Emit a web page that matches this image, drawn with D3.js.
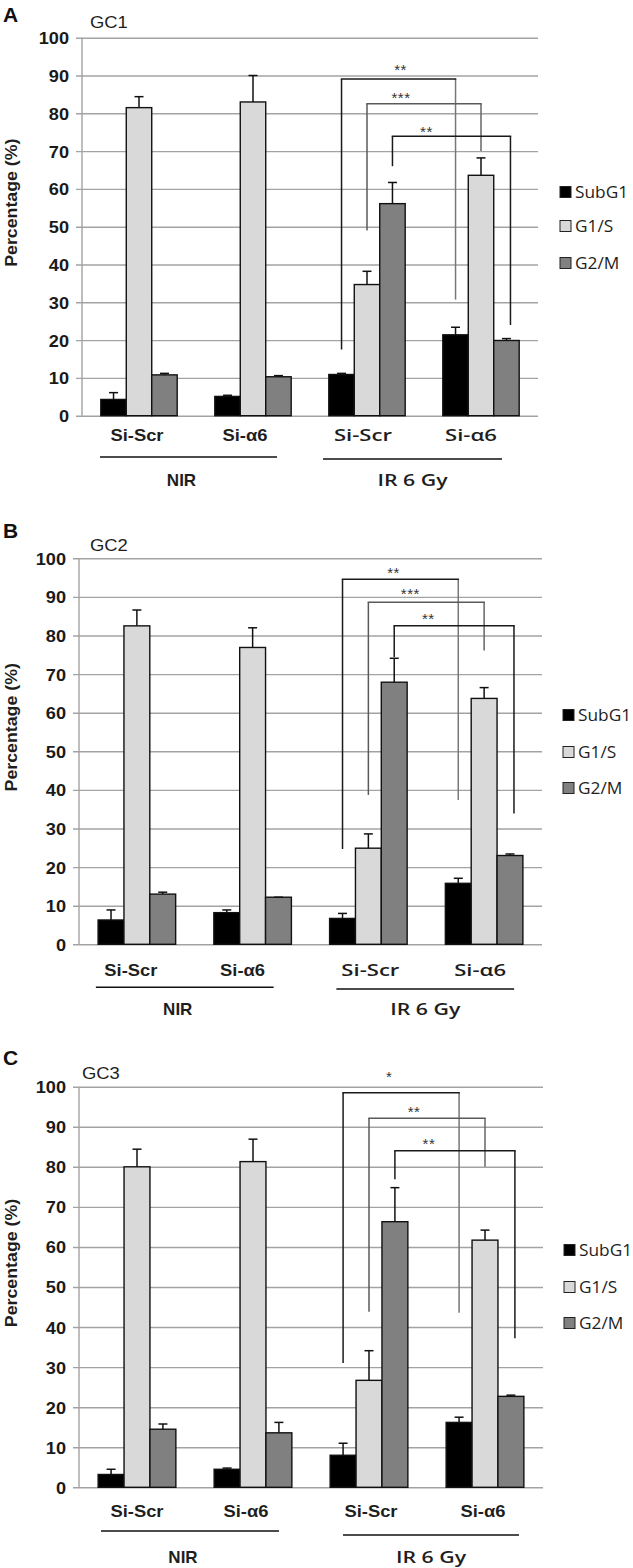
<!DOCTYPE html>
<html><head><meta charset="utf-8">
<script src="https://cdn.jsdelivr.net/npm/d3@7"></script>
<style>body{margin:0;background:#fff} svg{display:block}</style>
</head><body>
<svg id="chart" width="633" height="1568"></svg>
<script>
// ---------------- data ----------------
const groups = ["NIR Si-Scr", "NIR Si-α6", "IR Si-Scr", "IR Si-α6"];
const categoryLabels = ["Si-Scr", "Si-α6", "Si-Scr", "Si-α6"];
const treatmentLabels = ["NIR", "IR 6 Gy"];
const seriesNames = ["SubG1", "G1/S", "G2/M"];
const seriesColors = ["#000000", "#d9d9d9", "#808080"];
const yTicks = [0, 10, 20, 30, 40, 50, 60, 70, 80, 90, 100];
const panelLetters = ["A", "B", "C"];
const panelTitles = ["GC1", "GC2", "GC3"];

// GC1
const gc1SubG1 = [4.3, 5.1, 10.9, 21.4];
const gc1SubG1Err = [1.8, 0.3, 0.3, 2.0];
const gc1G1S = [81.5, 83.0, 34.7, 63.6];
const gc1G1SErr = [2.9, 7.0, 3.5, 4.6];
const gc1G2M = [10.8, 10.3, 56.1, 19.9];
const gc1G2MErr = [0.4, 0.3, 5.6, 0.5];
const gc1BracketLevel = [89.1, 82.5, 73.9];
const gc1BracketLeftEnd = [17.5, 49.0, 66.0];
const gc1BracketRightEnd = [30.7, 70.0, 24.0];
const gc1Stars = ["**", "***", "**"];

// GC2
const gc2SubG1 = [6.3, 8.2, 6.7, 15.8];
const gc2SubG1Err = [2.6, 0.7, 1.3, 1.3];
const gc2G1S = [82.5, 76.9, 24.9, 63.7];
const gc2G1SErr = [4.1, 5.1, 3.7, 2.8];
const gc2G2M = [13.0, 12.2, 67.9, 23.0];
const gc2G2MErr = [0.5, 0.0, 6.2, 0.4];
const gc2BracketLevel = [94.6, 88.6, 82.5];
const gc2BracketLeftEnd = [24.7, 38.7, 74.4];
const gc2BracketRightEnd = [37.4, 76.1, 33.9];
const gc2Stars = ["**", "***", "**"];

// GC3
const gc3SubG1 = [3.2, 4.5, 8.0, 16.2];
const gc3SubG1Err = [1.3, 0.3, 3.0, 1.3];
const gc3G1S = [80.0, 81.3, 26.7, 61.7];
const gc3G1SErr = [4.4, 5.6, 7.4, 2.5];
const gc3G2M = [14.5, 13.6, 66.3, 22.7];
const gc3G2MErr = [1.3, 2.6, 8.5, 0.3];
const gc3BracketLevel = [98.5, 92.1, 84.0];
const gc3BracketLeftEnd = [31.0, 43.8, 76.9];
const gc3BracketRightEnd = [43.6, 80.0, 37.2];
const gc3Stars = ["*", "**", "**"];

// ---------------- layout (positions / styles) ----------------
const layouts = [
  {x0:82, x1:538, yTop:37.7, yBot:415.7, letterY:22, titleY:28, titleX:90,
   catY:441, catDx:[-2,-8,-4,-10], nirLineY:457, irLineY:459, groupY:486,
   nirLine:[-39,24], irLine:[-44,21], legendX:560, legendY:[192,226,263],
   starDx:[59,34,34], starDy:[11,8,7], irSans:true},
  {x0:79, x1:542, yTop:558.3, yBot:944.3, letterY:538, titleY:551, titleX:90,
   catY:975.5, catDx:[-6,-10,2,-4], nirLineY:987.3, irLineY:989, groupY:1015,
   nirLine:[-41,21], irLine:[-32,30], legendX:563, legendY:[715,752,788],
   starDx:[51,42,34], starDy:[9,11,9], irSans:true},
  {x0:79, x1:543, yTop:1086.7, yBot:1487.3, letterY:1065, titleY:1079, titleX:82,
   catY:1517, catDx:[0,-7,2,-2], nirLineY:1531, irLineY:1535, groupY:1563,
   nirLine:[-36,26], irLine:[-26,34], legendX:564, legendY:[1250,1287,1323],
   starDx:[46,45,34], starDy:[18,9,9], irSans:false}
];
const rightLegDx = [0, 0, 4];
const bracketColors = {horiz:["#1a1a1a","#5a5a5a","#1a1a1a"], left:["#1a1a1a","#5a5a5a","#1a1a1a"], right:["#777","#666","#1a1a1a"]};

const panels = [
  {means:[gc1SubG1, gc1G1S, gc1G2M], errs:[gc1SubG1Err, gc1G1SErr, gc1G2MErr],
   level:gc1BracketLevel, leftEnd:gc1BracketLeftEnd, rightEnd:gc1BracketRightEnd, stars:gc1Stars},
  {means:[gc2SubG1, gc2G1S, gc2G2M], errs:[gc2SubG1Err, gc2G1SErr, gc2G2MErr],
   level:gc2BracketLevel, leftEnd:gc2BracketLeftEnd, rightEnd:gc2BracketRightEnd, stars:gc2Stars},
  {means:[gc3SubG1, gc3G1S, gc3G2M], errs:[gc3SubG1Err, gc3G1SErr, gc3G2MErr],
   level:gc3BracketLevel, leftEnd:gc3BracketLeftEnd, rightEnd:gc3BracketRightEnd, stars:gc3Stars}
];

const ARIAL = "'Liberation Sans', Arial, sans-serif";
const SANS = "'Open Sans', 'Liberation Sans', sans-serif";
const svg = d3.select("#chart");

function stretch(sel, f) {
  sel.each(function () {
    const n = this.getComputedTextLength();
    this.setAttribute("textLength", (n * f).toFixed(2));
    this.setAttribute("lengthAdjust", "spacingAndGlyphs");
  });
  return sel;
}

panels.forEach((p, pi) => {
  const L = layouts[pi];
  const g = svg.append("g");
  const y = d3.scaleLinear().domain([0, 100]).range([L.yBot, L.yTop]);
  const x = d3.scaleBand().domain(groups).range([L.x0, L.x1]).paddingInner(0).paddingOuter(0);
  const innerW = x.bandwidth() * 0.67;
  const xs = d3.scaleBand().domain(seriesNames).range([-innerW / 2, innerW / 2]);
  const cx = (gi) => x(groups[gi]) + x.bandwidth() / 2;
  const barCenter = (gi, si) => cx(gi) + xs(seriesNames[si]) + xs.bandwidth() / 2;

  // axis + gridlines
  const axis = d3.axisLeft(y).tickValues(yTicks).tickSize(-(L.x1 - L.x0)).tickPadding(13).tickFormat(d3.format("d"));
  const ag = g.append("g").attr("transform", `translate(${L.x0},0)`).call(axis);
  ag.select(".domain").remove();
  ag.selectAll(".tick line").attr("x1", -6).attr("stroke", "#a3a3a3").attr("stroke-width", 1.4);
  ag.selectAll(".tick text").attr("font-family", ARIAL).attr("font-weight", "bold")
    .attr("font-size", 16.5).attr("fill", "#1a1a1a").attr("dy", "0.36em");
  stretch(ag.selectAll(".tick text"), 1.1);
  g.append("line").attr("x1", L.x0).attr("x2", L.x0).attr("y1", y(0)).attr("y2", y(100))
    .attr("stroke", "#a3a3a3").attr("stroke-width", 1.4);

  // bars
  seriesNames.forEach((s, si) => {
    g.append("g").selectAll("rect").data(p.means[si]).join("rect")
      .attr("x", (d, gi) => x(groups[gi]) + x.bandwidth() / 2 + xs(s))
      .attr("width", xs.bandwidth())
      .attr("y", d => y(d))
      .attr("height", d => y(0) - y(d))
      .attr("fill", seriesColors[si])
      .attr("stroke", "#111").attr("stroke-width", 1.4);
  });
  // error bars
  seriesNames.forEach((s, si) => {
    const eg = g.append("g").attr("stroke", "#111").attr("stroke-width", 1.5);
    p.means[si].forEach((m, gi) => {
      const e = p.errs[si][gi];
      const bx = barCenter(gi, si);
      eg.append("line").attr("x1", bx).attr("x2", bx).attr("y1", y(m)).attr("y2", y(m + e));
      eg.append("line").attr("x1", bx - 4.5).attr("x2", bx + 4.5).attr("y1", y(m + e)).attr("y2", y(m + e));
    });
  });

  // significance brackets
  p.level.forEach((lv, bi) => {
    const xl = barCenter(2, bi);
    const xr = barCenter(3, bi) + rightLegDx[bi];
    const yl = y(lv);
    g.append("line").attr("x1", xl).attr("x2", xl).attr("y1", yl).attr("y2", y(p.leftEnd[bi]))
      .attr("stroke", bracketColors.left[bi]).attr("stroke-width", 1.5);
    g.append("line").attr("x1", xr).attr("x2", xr).attr("y1", yl).attr("y2", y(p.rightEnd[bi]))
      .attr("stroke", bracketColors.right[bi]).attr("stroke-width", 1.5);
    g.append("line").attr("x1", xl - 0.75).attr("x2", xr + 0.75).attr("y1", yl).attr("y2", yl)
      .attr("stroke", bracketColors.horiz[bi]).attr("stroke-width", 1.5);
    g.append("text").attr("x", xl + L.starDx[bi]).attr("y", yl - L.starDy[bi] + 7.5)
      .attr("text-anchor", "middle").attr("font-family", ARIAL).attr("font-size", 15)
      .attr("letter-spacing", 0.5).attr("fill", "#333").text(p.stars[bi]);
  });

  // category labels
  categoryLabels.forEach((c, gi) => {
    const isIR = gi >= 2;
    const useSans = isIR && L.irSans;
    const t = g.append("text").attr("x", cx(gi) + L.catDx[gi]).attr("y", L.catY)
      .attr("text-anchor", "middle")
      .attr("font-family", useSans ? SANS : ARIAL)
      .attr("font-weight", useSans ? 600 : "bold")
      .attr("font-size", 17)
      .attr("fill", "#1e1e1e").text(c);
    stretch(t, useSans ? 1.3 : 1.08);
  });

  // treatment underline + labels
  const nirStart = cx(0) + L.nirLine[0], nirEnd = cx(1) + L.nirLine[1];
  const irStart = cx(2) + L.irLine[0], irEnd = cx(3) + L.irLine[1];
  g.append("line").attr("x1", nirStart).attr("x2", nirEnd).attr("y1", L.nirLineY).attr("y2", L.nirLineY)
    .attr("stroke", "#111").attr("stroke-width", 1.5);
  g.append("line").attr("x1", irStart).attr("x2", irEnd).attr("y1", L.irLineY).attr("y2", L.irLineY)
    .attr("stroke", "#111").attr("stroke-width", 1.5);
  g.append("text").attr("x", (nirStart + nirEnd) / 2 - 7).attr("y", L.groupY)
    .attr("text-anchor", "middle").attr("font-family", ARIAL).attr("font-weight", "bold")
    .attr("font-size", 17).attr("fill", "#1e1e1e").text(treatmentLabels[0]);
  const ti = g.append("text").attr("x", (irStart + irEnd) / 2).attr("y", L.groupY)
    .attr("text-anchor", "middle").attr("font-family", SANS).attr("font-weight", 600)
    .attr("font-size", 17).attr("fill", "#1e1e1e").text(treatmentLabels[1]);
  stretch(ti, 1.25);

  // legend
  seriesNames.forEach((s, si) => {
    const ly = L.legendY[si];
    g.append("rect").attr("x", L.legendX).attr("y", ly - 5.5).attr("width", 11).attr("height", 11)
      .attr("fill", seriesColors[si]).attr("stroke", "#222").attr("stroke-width", 1);
    const lt = g.append("text").attr("x", L.legendX + 15).attr("y", ly + 6)
      .attr("font-family", SANS).attr("font-size", 16).attr("fill", "#1e1e1e").text(s);
    stretch(lt, 1.08);
  });

  // y title
  const ty = g.append("text")
    .attr("transform", `translate(17,${(L.yTop + L.yBot) / 2 - 24}) rotate(-90)`)
    .attr("text-anchor", "middle").attr("font-family", ARIAL).attr("font-weight", "bold")
    .attr("font-size", 16).attr("fill", "#1e1e1e").text("Percentage (%)");
  stretch(ty, 1.11);

  // panel letter + title
  g.append("text").attr("x", 3).attr("y", L.letterY).attr("font-family", ARIAL).attr("font-weight", "bold")
    .attr("font-size", 21).attr("fill", "#111").text(panelLetters[pi]);
  const tt = g.append("text").attr("x", L.titleX).attr("y", L.titleY).attr("font-family", ARIAL)
    .attr("font-size", 16).attr("fill", "#1e1e1e").text(panelTitles[pi]);
  stretch(tt, 1.15);
});
</script>
</body></html>
